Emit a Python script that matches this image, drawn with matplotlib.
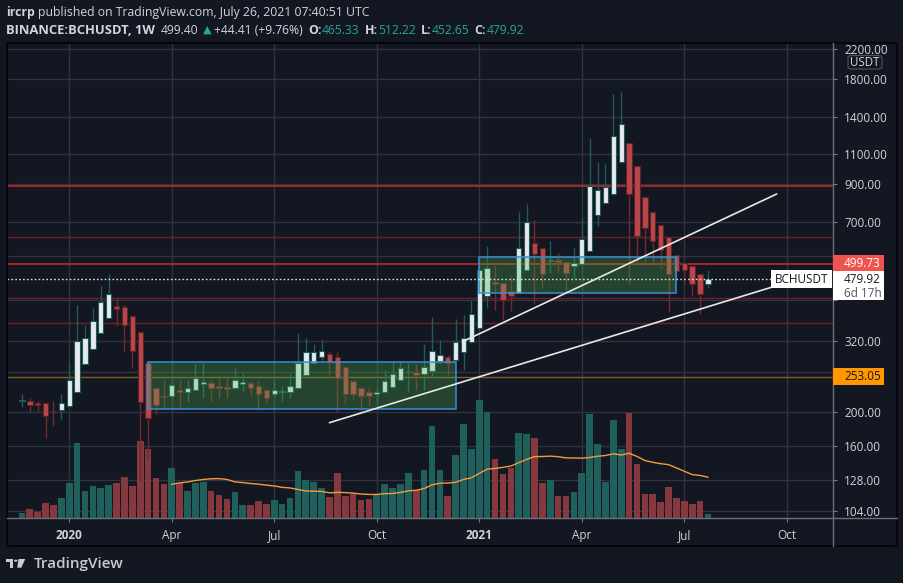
import matplotlib
matplotlib.use("Agg")
import matplotlib.pyplot as plt
import matplotlib.dates as mdates
from matplotlib.patches import Rectangle, FancyBboxPatch, Polygon, Circle
from matplotlib.lines import Line2D
from matplotlib.ticker import FixedLocator, NullLocator, NullFormatter
import pandas as pd

# ---- weekly BCHUSDT candles ----
week_start = "2019-11-25"
opens = [216, 216, 213, 212, 202, 203, 208, 228, 275, 303, 337, 372,
         403, 401, 378, 339, 277, 235, 222, 222, 231, 229, 232, 241,
         242, 237, 236, 234, 241, 242, 237, 232, 226, 229, 229, 234,
         255, 277, 288, 293, 287, 269, 246, 234, 229, 226, 228, 236,
         248, 260, 260, 257, 262, 280, 287, 282, 297, 317, 348, 431,
         471, 469, 445, 438, 510, 609, 591, 542, 544, 539, 524, 532,
         578, 734, 795, 845, 1045, 1180, 1016, 825, 747, 687, 637, 564,
         534, 524, 498, 465.33]
highs = [226, 220, 215, 213, 215, 226, 281, 405, 355, 400, 461, 497,
         428, 406, 378, 339, 277, 235, 248, 245, 247, 248, 275, 276,
         247, 255, 253, 268, 259, 245, 245, 232, 246, 238, 257, 337,
         326, 313, 323, 300, 298, 269, 246, 234, 234, 234, 265, 279,
         281, 277, 275, 313, 374, 322, 291, 371, 380, 420, 520, 600,
         524, 469, 490, 751, 790, 711, 591, 618, 571, 539, 596, 718,
         1221, 1043, 1036, 1631, 1663, 1180, 1016, 825, 747, 687, 637, 564,
         534, 524, 498, 512.22]
lows = [207, 200, 202, 169, 182, 190, 207, 228, 275, 303, 337, 372,
        352, 298, 267, 128, 146, 197, 205, 218, 205, 214, 232, 220,
        216, 220, 219, 234, 230, 223, 203, 212, 222, 216, 220, 234,
        255, 277, 282, 255, 200, 213, 217, 202, 210, 212, 228, 236,
        248, 228, 232, 232, 250, 275, 255, 282, 265, 315, 345, 398,
        393, 367, 390, 438, 510, 407, 455, 500, 503, 438, 484, 532,
        578, 683, 795, 845, 1045, 465, 536, 539, 539, 516, 388, 479,
        465, 430, 383, 452.65]
closes = [217, 210, 209, 195, 201, 213, 248, 320, 326, 366, 415, 436,
          395, 356, 300, 214, 192, 209, 221, 240, 229, 234, 251, 244,
          234, 234, 233, 248, 244, 234, 225, 220, 231, 230, 237, 277,
          297, 297, 300, 279, 250, 225, 226, 222, 223, 228, 246, 258,
          267, 261, 255, 269, 300, 291, 277, 317, 327, 381, 511, 518,
          465, 419, 431, 591, 700, 569, 498, 546, 538, 501, 535, 628,
          888, 866, 881, 1238, 1335, 845, 640, 675, 617, 582, 498, 508,
          510, 465, 436, 479.92]
volumes = [14, 26, 17, 44, 38, 59, 104, 224, 80, 95, 89, 98,
           104, 122, 95, 230, 206, 119, 101, 149, 104, 80, 104, 107,
           80, 68, 56, 77, 38, 38, 50, 41, 53, 41, 59, 140,
           113, 107, 89, 62, 134, 65, 71, 53, 56, 68, 101, 89,
           101, 134, 83, 143, 275, 143, 65, 188, 281, 206, 353, 317,
           176, 131, 149, 254, 251, 239, 104, 113, 65, 65, 77, 134,
           311, 221, 107, 293, 206, 314, 161, 71, 71, 47, 92, 59,
           50, 41, 50, 11]
vol_ma_len = 20

# ---- axis ticks (labels hidden behind the price tags are left out) ----
price_ticks = [104, 128, 160, 200, 260, 320, 420, 560, 700, 900, 1100, 1400, 1800, 2200]
covered_ticks = [260, 420, 560]
time_ticks = ["2020-01-06", "2020-04-06", "2020-07-06", "2020-10-05",
              "2021-01-04", "2021-04-05", "2021-07-05", "2021-10-04"]
time_labels = ["2020", "Apr", "Jul", "Oct", "2021", "Apr", "Jul", "Oct"]

# ---- drawings on the chart ----
red_levels = [889, 532]
dark_red_levels = [634, 424, 361]
orange_level = 253.05
last_price = 479.92
boxes = [("2020-03-16", "2020-12-14", 204, 278),
         ("2021-01-04", "2021-06-28", 438, 555.5)]
trend_lines = [(["2020-08-24", "2021-09-24"], [186.6, 459.7]),
               (["2020-12-20", "2021-09-25"], [318.3, 843.5])]

W, H = 904, 583
BG = "#131722"
TEXT = "#d1d4dc"
GRID = "#30343f"
TEAL = "#26a69a"
FONT = ["Open Sans", "DejaVu Sans"]

plt.rcParams["font.family"] = FONT

fig = plt.figure(figsize=(W / 100, H / 100), dpi=100, facecolor=BG)


def fx(x):
    return x / W


def fy(y):
    return 1 - y / H


# plot area in pixels: x 7..833, y 43..518
ax = fig.add_axes([fx(7), fy(518), (833 - 7) / W, (518 - 43) / H])
ax.set_facecolor(BG)
ax.set_yscale("log")

dates = pd.date_range(week_start, periods=len(opens), freq="W-MON")
xs = mdates.date2num(dates)
up = [c >= o for o, c in zip(opens, closes)]

# volume (bottom quarter of the pane)
vol = pd.Series(volumes, dtype=float)
vol_top = vol.max() * 4.03
vol_ma = vol.rolling(vol_ma_len).mean()
xtr = ax.get_xaxis_transform()
ax.bar(xs, vol / vol_top, width=5.9, bottom=0, transform=xtr,
       color=["#1f5f5c" if u else "#85383d" for u in up], zorder=1)
ax.plot(xs, vol_ma / vol_top, transform=xtr, color="#f39a3f", lw=1.0, zorder=1.2)

# horizontal levels
for lv in dark_red_levels:
    ax.axhline(lv, color="#6a2226", lw=1.0, zorder=1.5)
for lv in red_levels:
    ax.axhline(lv, color="#c3262a", lw=1.2, zorder=1.5)
ax.axhline(orange_level, color="#80601f", lw=1.0, zorder=1.5)

# candles
body_lo = [min(o, c) for o, c in zip(opens, closes)]
body_h = [max(abs(c - o), 0.4) for o, c in zip(opens, closes)]
ax.vlines(xs, lows, highs, colors=["#1e5c57" if u else "#74292e" for u in up],
          lw=1.0, zorder=2.5)
ax.bar(xs, body_h, bottom=body_lo, width=4.8,
       color=["#e6e9ee" if u else "#b8464a" for u in up],
       edgecolor=["#1e5c57" if u else "#5e2327" for u in up],
       linewidth=0.8, zorder=3)

# rectangles
for d0, d1, p0, p1 in boxes:
    x0, x1 = mdates.date2num(pd.Timestamp(d0)), mdates.date2num(pd.Timestamp(d1))
    ax.add_patch(Rectangle((x0, p0), x1 - x0, p1 - p0, facecolor="#4caf50",
                           alpha=0.3, edgecolor="none", zorder=3.5))
    ax.add_patch(Rectangle((x0, p0), x1 - x0, p1 - p0, facecolor="none",
                           edgecolor="#3a8ed8", lw=1.1, zorder=3.6))

# trend lines
for ds, ps in trend_lines:
    ax.plot(mdates.date2num(pd.to_datetime(ds)), ps, color="#e8e8e8", lw=1.2,
            zorder=4, solid_capstyle="round")

x_left = mdates.date2num(pd.Timestamp("2019-11-11 18:00"))
x_right = mdates.date2num(pd.Timestamp("2021-11-14"))
x_label = x_left + (x_right - x_left) * (771 - 7) / (833 - 7)
ax.plot([x_left, x_label], [last_price, last_price], color="#e0e0e0", lw=1.0,
        dashes=[1.2, 1.6], zorder=4.5)

ax.set_xlim(x_left, x_right)
ax.set_ylim(99.5, 2284)

# axes / ticks
ax.set_axisbelow(True)
ax.yaxis.tick_right()
ax.yaxis.set_major_locator(FixedLocator(price_ticks))
ax.yaxis.set_minor_locator(NullLocator())
ax.yaxis.set_minor_formatter(NullFormatter())
ax.set_yticklabels(["" if v in covered_ticks else f"{v:.2f}" for v in price_ticks])
tick_x = mdates.date2num(pd.to_datetime(time_ticks))
ax.set_xticks(tick_x)
ax.set_xticklabels(time_labels)
for lab in ax.get_xticklabels():
    if lab.get_text().isdigit():
        lab.set_fontweight("bold")
ax.tick_params(axis="y", colors="#787b86", labelcolor=TEXT, labelsize=8.5,
               length=3, width=0.8, pad=5, direction="out")
ax.tick_params(axis="x", colors="#787b86", labelcolor=TEXT, labelsize=8.5,
               length=3, width=0.8, pad=5, direction="out")
ax.grid(True, color=GRID, lw=1.0)
for sp in ax.spines.values():
    sp.set_visible(False)

# separators and frame
fig.add_artist(Line2D([fx(7), fx(897)], [fy(518), fy(518)], color="#6d707a", lw=1.0))
fig.add_artist(Line2D([fx(833), fx(833)], [fy(43), fy(546)], color="#6d707a", lw=1.0))
fig.add_artist(Rectangle((fx(7), fy(546)), (897 - 7) / W, (546 - 43) / H,
                         transform=fig.transFigure, facecolor="none",
                         edgecolor="#05070a", lw=1.5))


# right-side price labels
def label_y(price):
    return ax.transData.transform((x_left, price))[1]


def price_box(price, text, face, fg):
    yc = label_y(price)
    fig.add_artist(Rectangle((833.5 / W, (yc - 8.5) / H), 51 / W, 17 / H,
                             transform=fig.transFigure, facecolor=face,
                             edgecolor="none", zorder=5))
    fig.text(844 / W, yc / H, text, color=fg, fontsize=8.5, va="center",
             ha="left", zorder=6)


price_box(orange_level, f"{orange_level:.2f}", "#ff9800", "#131722")
price_box(red_levels[1], "499.73", "#ef5350", "#ffffff")
yc = label_y(last_price)
fig.add_artist(Rectangle((833.5 / W, (yc - 21) / H), 51 / W, 29.5 / H,
                         transform=fig.transFigure, facecolor="#ffffff",
                         edgecolor="none", zorder=5))
fig.text(844 / W, yc / H, f"{last_price:.2f}", color="#131722", fontsize=8.5,
         va="center", ha="left", zorder=6)
fig.text(844 / W, (yc - 14) / H, "6d 17h", color="#50535e", fontsize=8.5,
         va="center", ha="left", zorder=6)
fig.add_artist(Rectangle((771.5 / W, (yc - 9) / H), 61 / W, 18 / H,
                         transform=fig.transFigure, facecolor="#ffffff",
                         edgecolor="none", zorder=5))
fig.text(802 / W, yc / H, "BCHUSDT", color="#131722", fontsize=8.5,
         va="center", ha="center", zorder=6)

# USDT unit box
fig.add_artist(FancyBboxPatch((fx(848), fy(69)), 34 / W, 13.5 / H,
                              boxstyle="round,pad=0,rounding_size=0.004",
                              transform=fig.transFigure, facecolor=BG,
                              edgecolor="#50535e", lw=0.8, zorder=5))
fig.text(fx(865), fy(62), "USDT", color=TEXT, fontsize=8.3, va="center",
         ha="center", zorder=6)

# header
renderer = fig.canvas.get_renderer()


def chain(x, y, parts):
    for s, color, weight, size, gap in parts:
        t = fig.text(fx(x), fy(y), s, color=color, fontweight=weight,
                     fontsize=size, va="center", ha="left")
        bb = t.get_window_extent(renderer=renderer)
        x = bb.x1 + gap


chain(6, 12.5, [("ircrp", TEXT, "bold", 8.8, 3.5),
                ("published on TradingView.com, July 26, 2021 07:40:51 UTC",
                 TEXT, "normal", 8.8, 0)])
chain(6, 30, [("BINANCE:BCHUSDT, 1W", TEXT, "bold", 9.4, 6),
              ("499.40", TEXT, "normal", 8.7, 4),
              ("\u25b2", TEAL, "normal", 8.0, 3),
              ("+44.41 (+9.76%)", TEXT, "normal", 8.7, 5),
              ("O:", TEXT, "bold", 8.9, 0.5), ("465.33", TEAL, "normal", 8.7, 5),
              ("H:", TEXT, "bold", 8.9, 0.5), ("512.22", TEAL, "normal", 8.7, 5),
              ("L:", TEXT, "bold", 8.9, 0.5), ("452.65", TEAL, "normal", 8.7, 5),
              ("C:", TEXT, "bold", 8.9, 0.5), ("479.92", TEAL, "normal", 8.7, 0)])

# TradingView logo
logo = "#c9ccd3"
fig.add_artist(Polygon([(fx(6), fy(559)), (fx(13.3), fy(559)), (fx(13.3), fy(567.7)),
                        (fx(9.8), fy(567.7)), (fx(9.8), fy(562.3)), (fx(6), fy(562.3))],
                       closed=True, transform=fig.transFigure, facecolor=logo, edgecolor="none"))
fig.add_artist(Circle((fx(15.8), fy(560.7)), 1.7 / W, transform=fig.transFigure,
                      facecolor=logo, edgecolor="none"))
fig.add_artist(Polygon([(fx(18.5), fy(559)), (fx(25.2), fy(559)), (fx(21.3), fy(567.7)),
                        (fx(17.3), fy(567.7))], closed=True, transform=fig.transFigure,
                       facecolor=logo, edgecolor="none"))
fig.text(fx(34), fy(564), "TradingView", color=logo, fontsize=11,
         fontweight="semibold", va="center", ha="left")

fig.savefig("out.png", dpi=100, facecolor=BG)
